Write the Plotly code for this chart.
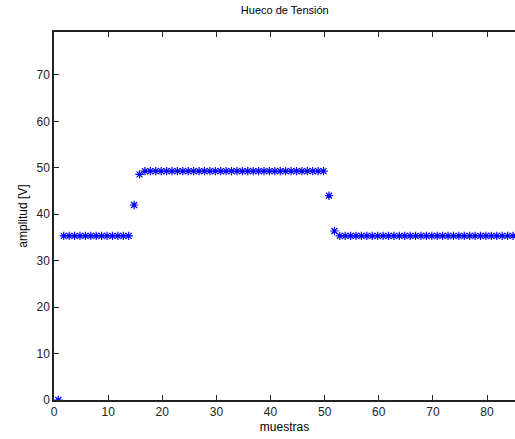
import plotly.graph_objects as go

# sample positions and amplitudes
muestras = [k + 0.8 for k in range(86)]
amplitud = (
    [0.0]
    + [35.36] * 13
    + [42.0, 48.6]
    + [49.3] * 34
    + [44.0, 36.4]
    + [35.36] * 34
)

x_ticks = [0, 10, 20, 30, 40, 50, 60, 70, 80]
y_ticks = [0, 10, 20, 30, 40, 50, 60, 70]

fig = go.Figure()
fig.add_trace(go.Scatter(
    x=muestras, y=amplitud, mode="markers",
    marker=dict(symbol="asterisk-open", size=7, color="#0000ff",
                line=dict(color="#0000ff", width=1.2)),
    showlegend=False,
))

font = dict(family="Liberation Sans, Arial, sans-serif", size=12, color="#222222")
fig.update_layout(
    width=515, height=439,
    margin=dict(l=54, r=0, t=32, b=39),
    paper_bgcolor="white", plot_bgcolor="white",
    font=font,
    title=dict(text="Hueco de Tensión", x=0.553, xanchor="center",
               y=0.985, yanchor="top", yref="container",
               font=dict(family="Liberation Sans, Arial, sans-serif", size=11, color="#000000")),
    xaxis=dict(range=[0, 85.17], tickvals=x_ticks, ticks="inside", ticklen=5,
               tickcolor="#222222", showline=True, linecolor="#222222", linewidth=1.5,
               mirror="allticks", showgrid=False, zeroline=False,
               title=dict(text="muestras", standoff=4, font=dict(size=12, color="#000000"))),
    yaxis=dict(range=[0, 79.26], tickvals=y_ticks, ticks="inside", ticklen=5,
               tickcolor="#222222", showline=True, linecolor="#222222", linewidth=1.5,
               mirror=False, showgrid=False, zeroline=False,
               title=dict(text="amplitud [V]", standoff=6, font=dict(size=12, color="#000000"))),
)
fig.write_html(
    "out.html",
    config={"displayModeBar": False},
    post_script="document.body.style.margin='0';document.body.style.overflow='hidden';",
)
